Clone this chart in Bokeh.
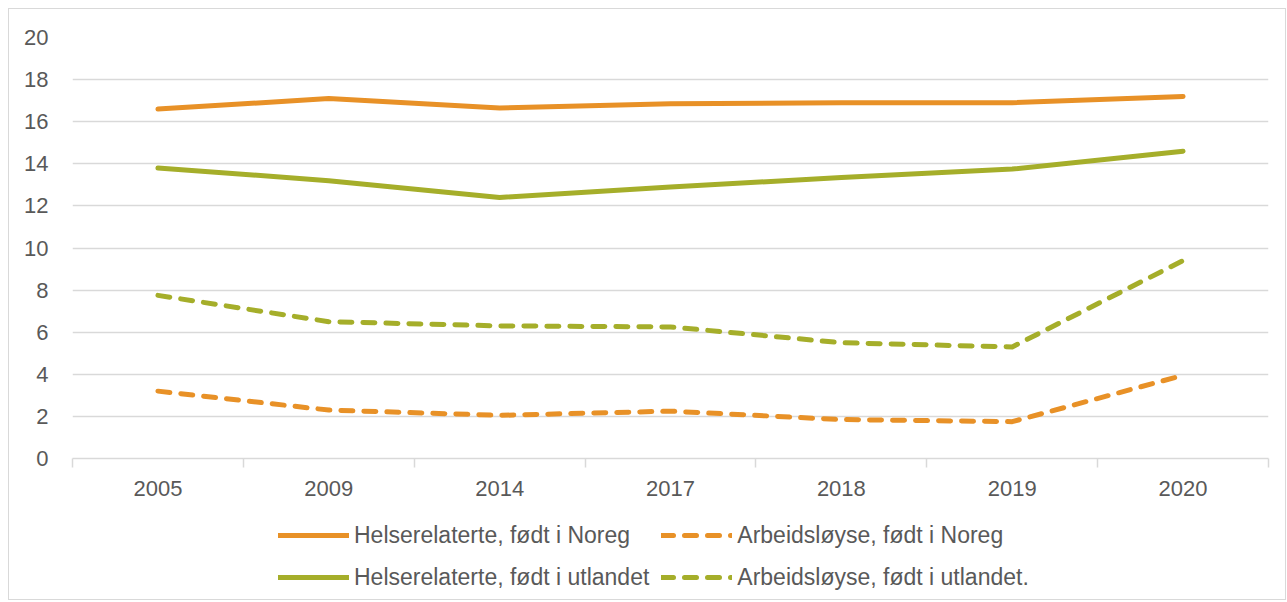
from bokeh.plotting import figure
from bokeh.layouts import column
from bokeh.models import FixedTicker, Legend, LegendItem, Range1d
from bokeh.embed import file_html
from bokeh.resources import INLINE

years = ["2005", "2009", "2014", "2017", "2018", "2019", "2020"]
helse_noreg = [16.6, 17.1, 16.65, 16.85, 16.9, 16.9, 17.2]
arbeid_noreg = [3.2, 2.3, 2.05, 2.25, 1.85, 1.75, 3.95]
helse_utland = [13.8, 13.2, 12.4, 12.9, 13.35, 13.75, 14.6]
arbeid_utland = [7.75, 6.5, 6.3, 6.25, 5.5, 5.3, 9.4]
y_ticks = list(range(0, 21, 2))

labels = ["Helserelaterte, født i Noreg", "Arbeidsløyse, født i Noreg",
          "Helserelaterte, født i utlandet", "Arbeidsløyse, født i utlandet."]

ORANGE = "#E89127"
GREEN = "#A5AE2A"
TXT = "#595959"
GRID = "#D9D9D9"
FONT = "Liberation Sans"
DASH = "12 11"
NAN = float("nan")

xs = [i + 0.5 for i in range(len(years))]

p = figure(width=1276, height=500, output_backend="svg", toolbar_location=None,
           x_range=Range1d(0, len(years)), y_range=Range1d(0, 20),
           min_border_left=63, min_border_right=17, min_border_top=28, min_border_bottom=51)
p.outline_line_color = None
p.background_fill_color = "white"

styles = [dict(line_color=ORANGE, line_dash="solid"),
          dict(line_color=ORANGE, line_dash=DASH),
          dict(line_color=GREEN, line_dash="solid"),
          dict(line_color=GREEN, line_dash=DASH)]
series = [helse_noreg, arbeid_noreg, helse_utland, arbeid_utland]
for vals, st in zip(series, styles):
    p.line(xs, vals, line_width=5, line_cap="round", line_join="round", **st)

# x axis
p.xaxis.ticker = FixedTicker(ticks=xs, minor_ticks=list(range(len(years) + 1)))
p.xaxis.major_label_overrides = {x: y for x, y in zip(xs, years)}
p.xaxis.major_tick_line_color = None
p.xaxis.major_tick_out = 0
p.xaxis.major_tick_in = 0
p.xaxis.minor_tick_line_color = GRID
p.xaxis.minor_tick_line_width = 1.5
p.xaxis.minor_tick_out = 9
p.xaxis.minor_tick_in = 0
p.xaxis.axis_line_color = GRID
p.xaxis.axis_line_width = 1.5
p.xaxis.major_label_text_font = FONT
p.xaxis.major_label_text_font_size = "22px"
p.xaxis.major_label_text_color = TXT
p.xaxis.major_label_standoff = 13
p.xgrid.grid_line_color = None

# y axis
p.yaxis.ticker = FixedTicker(ticks=y_ticks)
p.yaxis.axis_line_color = None
p.yaxis.major_tick_line_color = None
p.yaxis.major_tick_out = 0
p.yaxis.major_tick_in = 0
p.yaxis.minor_tick_line_color = None
p.yaxis.major_label_text_font = FONT
p.yaxis.major_label_text_font_size = "22px"
p.yaxis.major_label_text_color = TXT
p.yaxis.major_label_standoff = 24
p.ygrid.grid_line_color = GRID
p.ygrid.grid_line_width = 1.5

# legend panel (legend-only figure; its renderers hold no visible data)
lp = figure(width=1276, height=90, output_backend="svg", toolbar_location=None,
            x_range=Range1d(0, 1), y_range=Range1d(0, 1),
            x_axis_location=None, y_axis_location=None,
            min_border_left=0, min_border_right=0, min_border_top=0, min_border_bottom=0)
lp.outline_line_color = None
lp.xgrid.grid_line_color = None
lp.ygrid.grid_line_color = None
lr = [lp.line([NAN], [NAN], line_width=5, line_cap="round", line_join="round", **st) for st in styles]

legend = Legend(items=[LegendItem(label=labels[0], renderers=[lr[0]]),
                       LegendItem(label=labels[2], renderers=[lr[2]]),
                       LegendItem(label=labels[1], renderers=[lr[1]]),
                       LegendItem(label=labels[3], renderers=[lr[3]])],
                ncols=2, location=(206, 7), border_line_color=None,
                background_fill_alpha=0,
                label_text_font=FONT, label_text_font_size="23px", label_text_color=TXT,
                glyph_width=71, glyph_height=20, label_standoff=5, spacing=12,
                margin=0, padding=4, label_height=30)
lp.add_layout(legend, "center")

layout = column(p, lp, spacing=0,
                styles={"border": "1px solid #D9D9D9", "margin-left": "8px", "margin-top": "8px"})

open("out.html", "w").write(file_html(layout, INLINE))
